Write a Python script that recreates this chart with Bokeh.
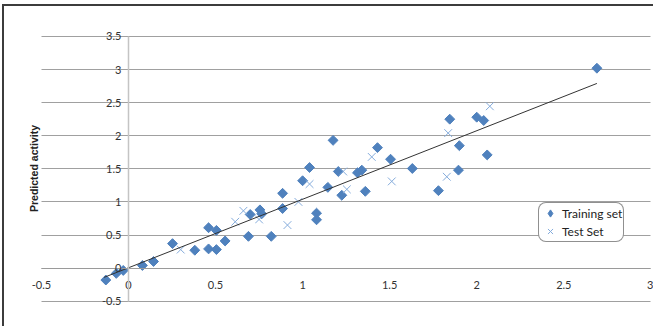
import numpy as np
from bokeh.plotting import figure
from bokeh.models import Range1d, FixedTicker, Legend, LegendItem, Label
from bokeh.embed import file_html
from bokeh.resources import INLINE

# ---------------- data ----------------
train_x = [-0.13, -0.07, -0.03, 0.08, 0.144, 0.253, 0.381, 0.46, 0.505, 0.46, 0.505,
           0.555, 0.699, 0.689, 0.755, 0.765, 0.82, 0.885, 0.885, 1.0, 1.04, 1.08,
           1.08, 1.145, 1.175, 1.205, 1.225, 1.315, 1.34, 1.36, 1.43, 1.505, 1.63,
           1.78, 1.845, 1.90, 1.895, 2.0, 2.04, 2.06, 2.69]
train_y = [-0.18, -0.08, -0.035, 0.04, 0.10, 0.37, 0.27, 0.61, 0.57, 0.29, 0.28,
           0.41, 0.81, 0.48, 0.88, 0.82, 0.48, 1.13, 0.90, 1.32, 1.52, 0.83,
           0.73, 1.22, 1.93, 1.46, 1.10, 1.44, 1.48, 1.16, 1.82, 1.645, 1.505,
           1.17, 2.25, 1.85, 1.48, 2.28, 2.23, 1.71, 3.02]
test_x = [0.30, 0.613, 0.66, 0.75, 0.913, 0.976, 1.04, 1.233, 1.254, 1.397, 1.512,
          1.836, 1.828, 2.075]
test_y = [0.28, 0.70, 0.865, 0.735, 0.65, 1.0, 1.27, 1.46, 1.19, 1.68, 1.31,
          2.04, 1.38, 2.445]
trend_x = [-0.14, 2.69]
trend_y = [-0.14, 2.79]

x_ticks = [-0.5, 0, 0.5, 1, 1.5, 2, 2.5, 3]
x_tick_labels = ["-0.5", "0", "0.5", "1", "1.5", "2", "2.5", "3"]
y_ticks = [-0.5, 0, 0.5, 1, 1.5, 2, 2.5, 3, 3.5]
y_tick_labels = ["-0.5", "0", "0.5", "1", "1.5", "2", "2.5", "3", "3.5"]
x_axis_min, x_axis_max = -0.5, 3
y_axis_min, y_axis_max = -0.5, 3.5

series_names = ["Training set", "Test Set"]
x_title = "Observed activity"
y_title = "Predicted activity"

TRAIN_COLOR = "#4F81BD"
TEST_COLOR = "#85ACDC"

# ---------------- figure ----------------
# the ranges are padded a little so that the edge tick labels are not clipped
p = figure(frame_width=633, frame_height=278, output_backend="svg", toolbar_location=None,
           x_range=Range1d(-0.62, 3.015), y_range=Range1d(-0.58, 3.62),
           min_border_left=16, min_border_right=0, min_border_top=22, min_border_bottom=20)
p.styles = {"border-left": "2px solid #3c3c3c", "border-top": "2px solid #3c3c3c"}
p.margin = (4, 0, 0, 2)
p.outline_line_color = None
p.background_fill_color = "white"
p.border_fill_color = "white"

# axes crossing at zero
p.xaxis.fixed_location = 0
p.yaxis.fixed_location = 0
p.xaxis.bounds = (x_axis_min, x_axis_max)
p.yaxis.bounds = (y_axis_min, y_axis_max)
p.xaxis.ticker = FixedTicker(ticks=x_ticks)
p.yaxis.ticker = FixedTicker(ticks=y_ticks)
p.xaxis.major_label_overrides = {t: l for t, l in zip(x_ticks, x_tick_labels)}
p.yaxis.major_label_overrides = {t: l for t, l in zip(y_ticks, y_tick_labels)}
for ax in (p.xaxis, p.yaxis):
    ax.major_tick_out = 0
    ax.major_tick_in = 0
    ax.minor_tick_out = 0
    ax.minor_tick_in = 0
    ax.major_label_text_font = "Lato"
    ax.major_label_text_font_size = "11px"
    ax.major_label_text_color = "#333333"
p.xaxis.major_label_standoff = 13
p.yaxis.major_label_standoff = 7
p.xaxis.axis_line_color = "#9a9a9a"
p.xaxis.axis_line_width = 1
p.yaxis.axis_line_color = "#c4c4c4"
p.yaxis.axis_line_width = 1.5

p.xgrid.grid_line_color = None
p.ygrid.ticker = FixedTicker(ticks=y_ticks)
p.ygrid.grid_line_color = "#a0a0a0"
p.ygrid.grid_line_width = 1
try:
    p.ygrid.cross_bounds = (x_axis_min, x_axis_max)
except Exception:
    p.ygrid.grid_line_color = None
    p.segment(x0=[x_axis_min] * len(y_ticks), x1=[x_axis_max] * len(y_ticks),
              y0=y_ticks, y1=y_ticks, line_color="#a0a0a0", line_width=1)

# axis titles (placed relative to the plot frame, in screen units)
p.add_layout(Label(x=13, y=138, x_units="screen", y_units="screen", text=y_title,
                   angle=np.pi / 2, text_align="center", text_baseline="middle",
                   text_font="Liberation Sans", text_font_size="10.5px",
                   text_font_style="bold", text_color="#222222"))
p.add_layout(Label(x=325, y=-7, x_units="screen", y_units="screen", text=x_title,
                   text_align="center", text_baseline="middle",
                   text_font="Liberation Serif", text_font_size="13px",
                   text_font_style="bold", text_color="#222222"))

# series
r_train = p.scatter(train_x, train_y, marker="square", angle=np.pi / 4, size=7,
                    fill_color=TRAIN_COLOR, line_color=TRAIN_COLOR)
r_test = p.scatter(test_x, test_y, marker="x", size=11, line_color=TEST_COLOR, line_width=1)
p.line(trend_x, trend_y, line_color="#333333", line_width=1)

# key-only glyphs: one NaN point each, so nothing is drawn in the plot itself
r_train_key = p.scatter(x=[np.nan], y=[np.nan], marker="diamond",
                        fill_color=TRAIN_COLOR, line_color=TRAIN_COLOR)
r_test_key = p.scatter(x=[np.nan], y=[np.nan], marker="x", line_color=TEST_COLOR, line_width=1)

legend = Legend(items=[LegendItem(label=series_names[0], renderers=[r_train_key]),
                       LegendItem(label=series_names[1], renderers=[r_test_key])],
                location=(518, 64))
legend.label_text_font = "Lato"
legend.label_text_font_size = "12px"
legend.label_text_color = "#222222"
legend.border_line_color = "#222222"
legend.border_line_width = 1
legend.background_fill_color = "white"
legend.background_fill_alpha = 1
legend.glyph_width = 20
legend.glyph_height = 18
legend.label_height = 17
legend.label_standoff = 2
legend.padding = 1
legend.spacing = 0
legend.margin = 0
try:
    legend.border_radius = 8
except Exception:
    pass
p.add_layout(legend, "center")

open("out.html", "w").write(file_html(p, INLINE))
